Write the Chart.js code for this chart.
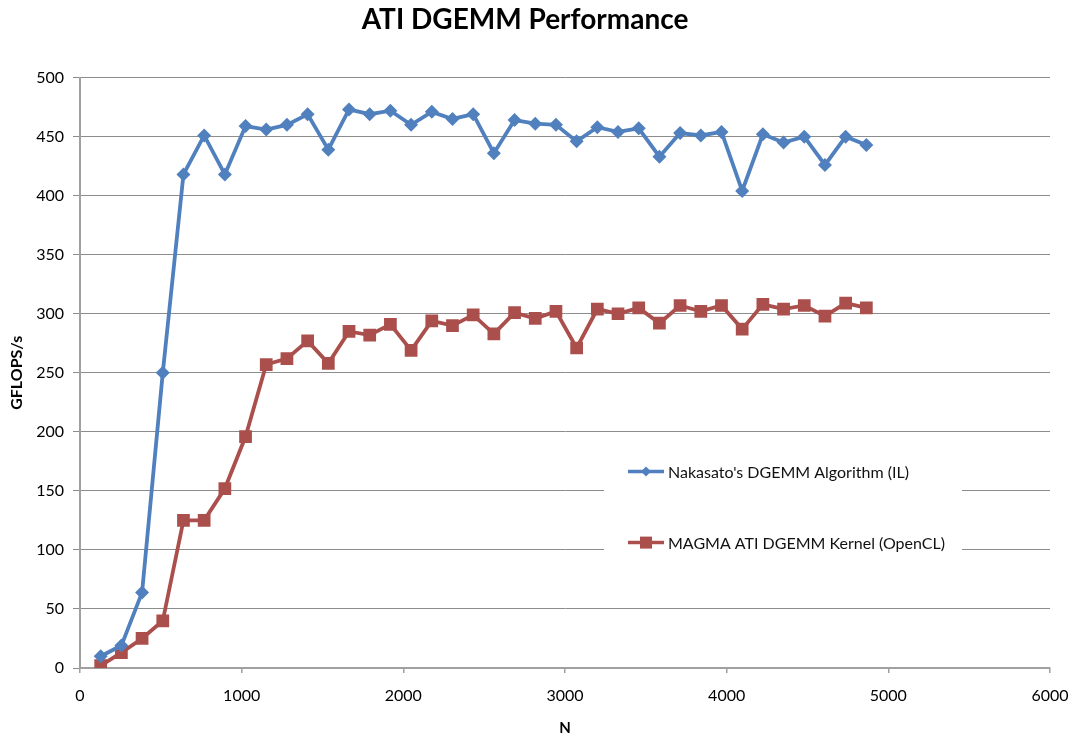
<!DOCTYPE html>
<html>
<head>
<meta charset="utf-8">
<script src="https://cdn.jsdelivr.net/npm/chart.js@4/dist/chart.umd.min.js"></script>
<style>
  html, body { margin: 0; padding: 0; background: #ffffff; }
  #wrap { width: 1073px; height: 739px; position: relative; }
</style>
</head>
<body>
<div id="wrap"><canvas id="c" width="1073" height="739"></canvas></div>
<script>
// ---- Data ----
const matrixSizes = [128, 256, 384, 512, 640, 768, 896, 1024, 1152, 1280,
  1408, 1536, 1664, 1792, 1920, 2048, 2176, 2304, 2432, 2560,
  2688, 2816, 2944, 3072, 3200, 3328, 3456, 3584, 3712, 3840,
  3968, 4096, 4224, 4352, 4480, 4608, 4736, 4864];

const nakasatoGflops = [10, 19, 64, 250, 418, 451, 418, 459, 456, 460,
  469, 439, 473, 469, 472, 460, 471, 465, 469, 436,
  464, 461, 460, 446, 458, 454, 457, 433, 453, 451,
  454, 404, 452, 445, 450, 426, 450, 443];

const magmaGflops = [2, 13, 25, 40, 125, 125, 152, 196, 257, 262,
  277, 258, 285, 282, 291, 269, 294, 290, 299, 283,
  301, 296, 302, 271, 304, 300, 305, 292, 307, 302,
  307, 287, 308, 304, 307, 298, 309, 305];

const seriesNames = ["Nakasato's DGEMM Algorithm (IL)", "MAGMA ATI DGEMM Kernel (OpenCL)"];
const chartTitle = 'ATI DGEMM Performance';
const xAxisTitle = 'N';
const yAxisTitle = 'GFLOPS/s';

const BLUE = '#5080BE';
const RED = '#AA4F4C';
const GRID = '#8C8C8C';
const AXIS = '#A0A0A0';
const FONT = 'Lato, "Open Sans", "DejaVu Sans", sans-serif';

const toPoints = (xs, ys) => xs.map((x, i) => ({ x: x, y: ys[i] }));

// Legend drawn inside the plot area, on a white box (as in the reference)
const innerLegend = {
  id: 'innerLegend',
  afterDatasetsDraw(chart) {
    const ctx = chart.ctx;
    const a = chart.chartArea;
    const boxL = a.left + 524, boxR = a.left + 882;
    const boxT = a.top + 367, boxB = a.top + 512;
    ctx.save();
    ctx.fillStyle = '#ffffff';
    ctx.fillRect(boxL, boxT, boxR - boxL, boxB - boxT);
    const rows = [a.top + 394, a.top + 465];
    chart.data.datasets.forEach((ds, i) => {
      const y = rows[i];
      const x0 = a.left + 548, x1 = a.left + 584;
      ctx.strokeStyle = ds.borderColor;
      ctx.lineWidth = 3.5;
      ctx.beginPath();
      ctx.moveTo(x0, y); ctx.lineTo(x1, y);
      ctx.stroke();
      ctx.fillStyle = ds.backgroundColor;
      const cx = (x0 + x1) / 2;
      ctx.beginPath();
      if (ds.pointStyle === 'rectRot') {
        const r = 5;
        ctx.moveTo(cx, y - r); ctx.lineTo(cx + r, y); ctx.lineTo(cx, y + r); ctx.lineTo(cx - r, y);
        ctx.closePath();
      } else {
        ctx.rect(cx - 6, y - 6, 12, 12);
      }
      ctx.fill();
      ctx.fillStyle = '#111111';
      ctx.font = '16px ' + FONT;
      ctx.textBaseline = 'middle';
      ctx.textAlign = 'left';
      ctx.fillText(ds.label, x1 + 4, y + 1);
    });
    ctx.restore();
  }
};

new Chart(document.getElementById('c'), {
  type: 'line',
  data: {
    datasets: [
      {
        label: seriesNames[0],
        data: toPoints(matrixSizes, nakasatoGflops),
        borderColor: BLUE,
        backgroundColor: BLUE,
        borderWidth: 3.8,
        pointStyle: 'rectRot',
        pointRadius: 7,
        pointHoverRadius: 7,
        pointBorderWidth: 0,
        tension: 0
      },
      {
        label: seriesNames[1],
        data: toPoints(matrixSizes, magmaGflops),
        borderColor: RED,
        backgroundColor: RED,
        borderWidth: 3.8,
        pointStyle: 'rect',
        pointRadius: 9,
        pointHoverRadius: 9,
        pointBorderWidth: 0,
        tension: 0
      }
    ]
  },
  options: {
    responsive: false,
    animation: false,
    devicePixelRatio: 1,
    layout: { padding: { left: 0, right: 23, top: 0, bottom: 0 } },
    plugins: {
      legend: { display: false },
      tooltip: { enabled: false },
      title: {
        display: true,
        text: chartTitle,
        color: '#000000',
        font: { family: FONT, size: 28, weight: 'bold' },
        padding: { top: 3, bottom: 41 }
      }
    },
    scales: {
      x: {
        type: 'linear',
        min: 0,
        max: 6000,
        afterFit(scale) { scale.height = 71; scale.paddingRight = 0; scale.paddingLeft = 0; },
        ticks: {
          stepSize: 1000,
          color: '#000000',
          padding: 13,
          maxRotation: 0,
          font: { family: FONT, size: 16 },
          callback: (v) => String(v)
        },
        grid: { drawOnChartArea: false, drawTicks: true, tickLength: 5, color: AXIS, lineWidth: 1.5 },
        border: { display: true, color: AXIS, width: 2 },
        title: {
          display: true,
          text: xAxisTitle,
          color: '#000000',
          font: { family: FONT, size: 15, weight: 'bold' },
          padding: { top: 0, bottom: 2 }
        }
      },
      y: {
        type: 'linear',
        min: 0,
        max: 500,
        afterFit(scale) { scale.width = 80; scale.paddingTop = 0; scale.paddingBottom = 0; },
        ticks: {
          stepSize: 50,
          color: '#000000',
          padding: 9,
          font: { family: FONT, size: 16 },
          callback: (v) => String(v)
        },
        grid: { drawOnChartArea: true, drawTicks: true, tickLength: 7, color: GRID, lineWidth: 1 },
        border: { display: true, color: AXIS, width: 2 },
        title: {
          display: true,
          text: yAxisTitle,
          color: '#000000',
          font: { family: FONT, size: 16, weight: 'bold' },
          padding: { top: 7, bottom: 0 }
        }
      }
    }
  },
  plugins: [innerLegend]
});
</script>
</body>
</html>
